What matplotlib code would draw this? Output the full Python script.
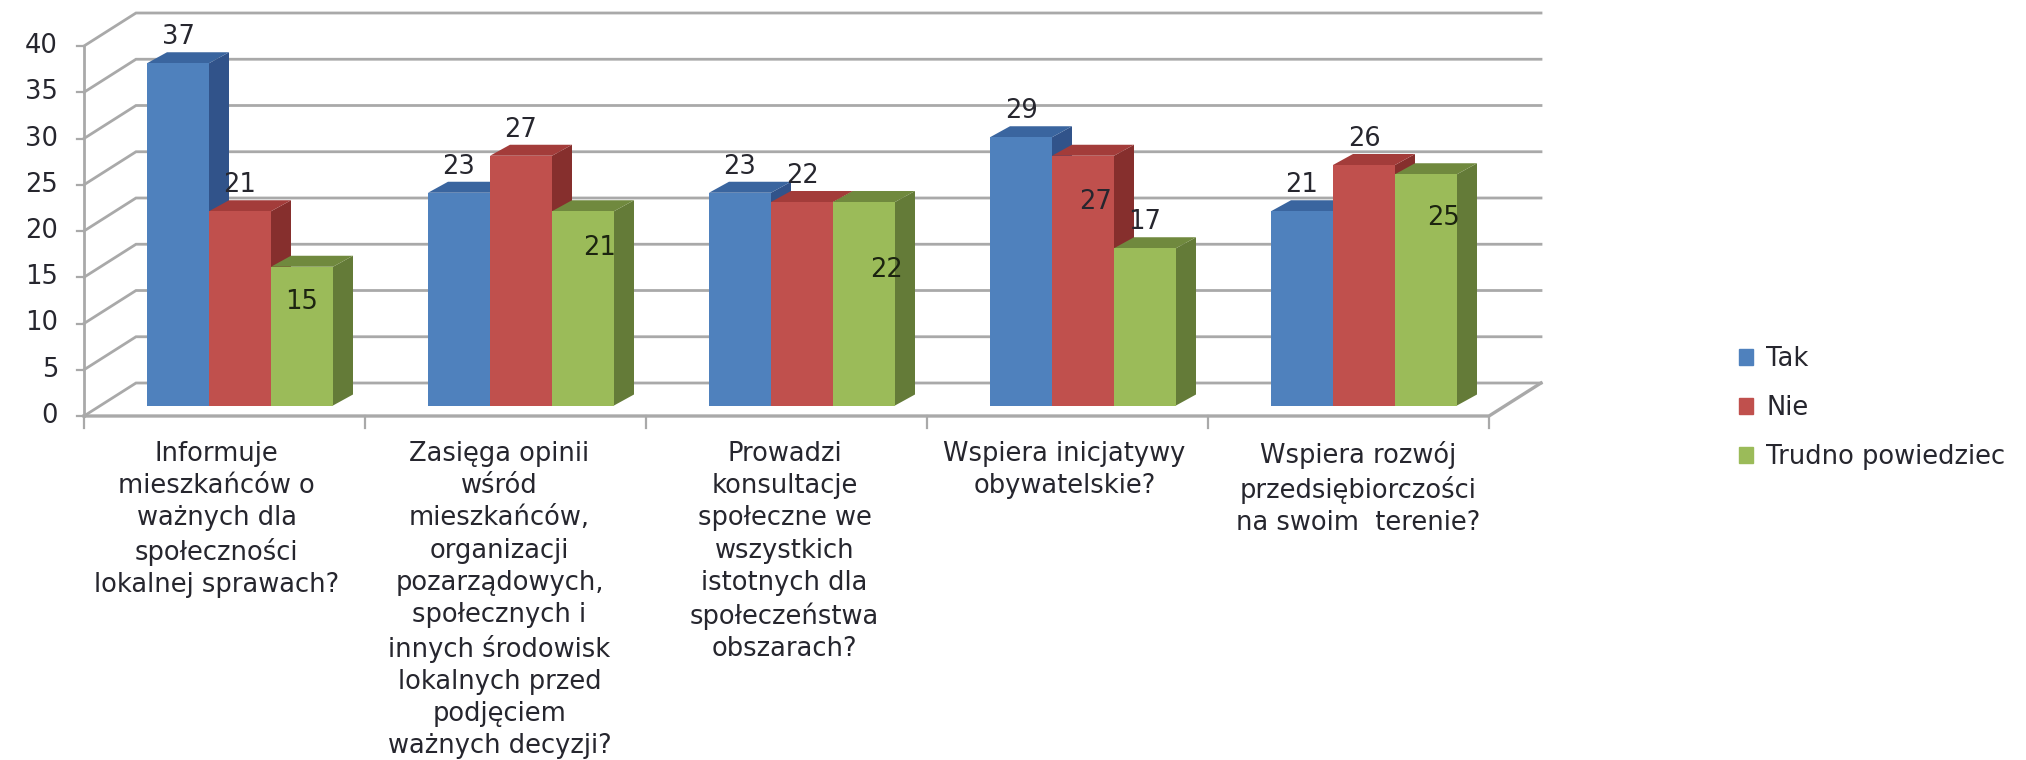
import matplotlib
matplotlib.use("Agg")
import matplotlib.pyplot as plt
from matplotlib.patches import Patch, Polygon

categories = [
    "Informuje\nmieszkańców o\nważnych dla\nspołeczności\nlokalnej sprawach?",
    "Zasięga opinii\nwśród\nmieszkańców,\norganizacji\npozarządowych,\nspołecznych i\ninnych środowisk\nlokalnych przed\npodjęciem\nważnych decyzji?",
    "Prowadzi\nkonsultacje\nspołeczne we\nwszystkich\nistotnych dla\nspołeczeństwa\nobszarach?",
    "Wspiera inicjatywy\nobywatelskie?",
    "Wspiera rozwój\nprzedsiębiorczości\nna swoim  terenie?",
]
series_names = ["Tak", "Nie", "Trudno powiedziec"]
tak = [37, 23, 23, 29, 21]
nie = [21, 27, 22, 27, 26]
trudno = [15, 21, 22, 17, 25]
y_ticks = [0, 5, 10, 15, 20, 25, 30, 35, 40]

# front, side, top
front_colors = ["#4F81BD", "#C0504D", "#9BBB59"]
side_colors = ["#31538A", "#862F2D", "#647B38"]
top_colors = ["#3A659F", "#A33C3A", "#70893E"]

# pixel scale of the plot, used to set the limits
PX_X = 281.0   # px per category
PX_Y = 9.25    # px per value unit
LEFT = 84
BASE = 416
W, H = 2026, 760

# floor depth and bar depth in data units
DX = 52 / PX_X
DY = 33 / PX_Y
BAR_DX = 20 / PX_X
BAR_DY = 11 / PX_Y
BAR_W = 62 / PX_X
BAR_X0 = 63 / PX_X
BAR_Y0 = 10.5 / PX_Y

GRID = "#A9A9A9"
TEXT = "#26262E"
FONT = 18.5

# label offsets in pixels from the top of the front face, where they differ
label_shift = {
    (2, 0): (0, -35),
    (2, 1): (17, -37),
    (2, 2): (22, -68),
    (1, 3): (13, -46),
    (2, 4): (17, -44),
}
text_shift = [-8, -6, -2, -3, 10]


def draw_walls(ax):
    n = len(categories)
    for v in y_ticks:
        ax.plot([0, DX, n + DX], [v, v + DY, v + DY], color=GRID, lw=2.0, zorder=1,
                solid_joinstyle="miter")
        ax.plot([-7 / PX_X, 0], [v, v], color=GRID, lw=1.6, zorder=1)
    ax.plot([0, 0], [0, 40], color=GRID, lw=2, zorder=1)
    ax.plot([0, n, n + DX], [0, 0, DY], color=GRID, lw=2.4, zorder=1)
    for i in range(n + 1):
        ax.plot([i, i], [0, -12 / PX_Y], color=GRID, lw=1.6, zorder=1)


def draw_bar(ax, x, v, s, z):
    y0 = BAR_Y0
    ax.bar(x, v, BAR_W, bottom=y0, align="edge", color=front_colors[s], zorder=z + 0.2)
    xr = x + BAR_W
    side = [(xr, y0), (xr + BAR_DX, y0 + BAR_DY), (xr + BAR_DX, y0 + v + BAR_DY), (xr, y0 + v)]
    top = [(x, y0 + v), (x + BAR_DX, y0 + v + BAR_DY), (xr + BAR_DX, y0 + v + BAR_DY), (xr, y0 + v)]
    ax.add_patch(Polygon(side, closed=True, color=side_colors[s], lw=0, zorder=z))
    ax.add_patch(Polygon(top, closed=True, color=top_colors[s], lw=0, zorder=z + 0.1))


def main():
    plt.rcParams["font.family"] = ["DejaVu Sans"]
    fig = plt.figure(figsize=(W / 100, H / 100), dpi=100)
    ax = fig.add_axes([0, 0, 1, 1])
    ax.set_xlim(-LEFT / PX_X, (W - LEFT) / PX_X)
    ax.set_ylim((BASE - H) / PX_Y, BASE / PX_Y)
    ax.axis("off")

    draw_walls(ax)

    z = 2
    for c in range(len(categories)):
        for s, values in enumerate([tak, nie, trudno]):
            v = values[c]
            x = c + BAR_X0 + s * BAR_W
            draw_bar(ax, x, v, s, z)
            z += 1
            dx, dy = label_shift.get((s, c), (0, 26))
            ax.annotate(str(v), (x + BAR_W / 2, BAR_Y0 + v), xytext=(dx, dy),
                        textcoords="offset pixels", ha="center", va="center",
                        fontsize=FONT, color="#1C2410" if s == 2 and dy < 0 else TEXT, zorder=100)

    for v in y_ticks:
        ax.text(-26 / PX_X, v, str(v), ha="right", va="center", fontsize=FONT, color=TEXT)

    for c, label in enumerate(categories):
        ax.text(c + 0.5 + text_shift[c] / PX_X, -25 / PX_Y, label, ha="center", va="top",
                fontsize=FONT, color=TEXT, linespacing=1.31)

    handles = [Patch(color=col, label=name) for col, name in zip(front_colors, series_names)]
    ax.legend(handles=handles, loc="center left", bbox_to_anchor=(1716 / W, 1 - 408 / H),
              frameon=False, fontsize=FONT, handlelength=0.55, handleheight=0.55,
              handletextpad=0.5, labelspacing=0.9, labelcolor=TEXT)

    fig.savefig("out.png", dpi=100)


if __name__ == "__main__":
    main()
